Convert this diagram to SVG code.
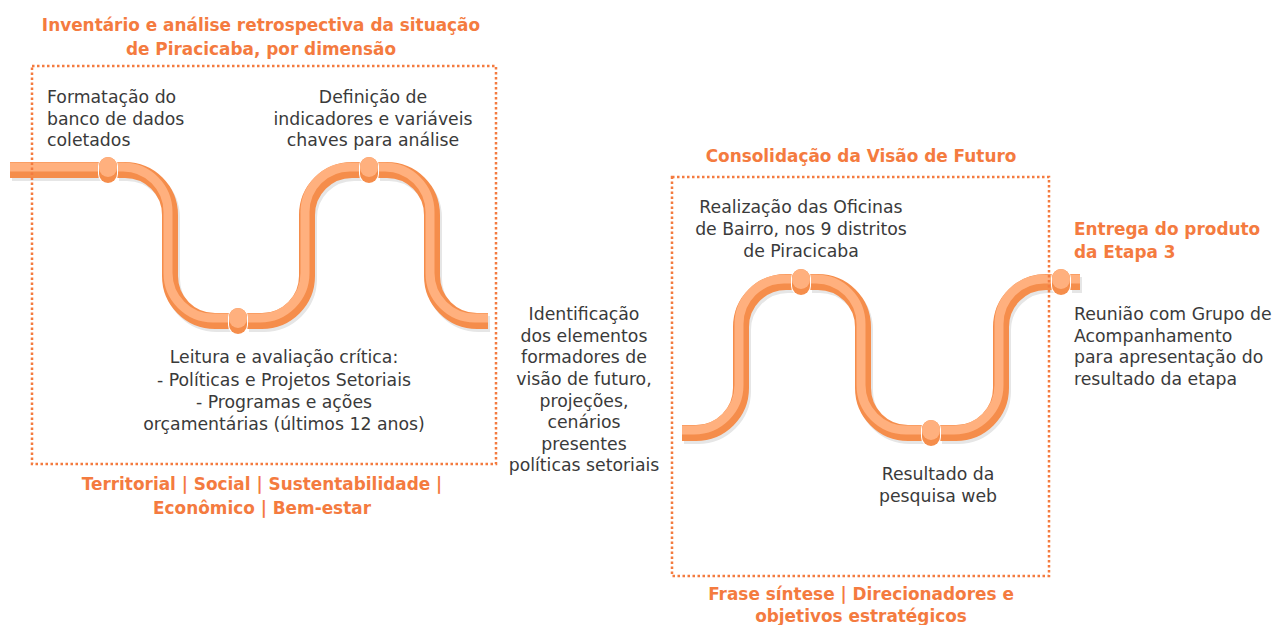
<svg xmlns="http://www.w3.org/2000/svg" width="1282" height="625" viewBox="0 0 1282 625">
<defs>
<style>
.box{fill:none;stroke:#F47B3F;stroke-width:2.5;stroke-dasharray:2.5 2.5}
.t{font-family:"DejaVu Sans","Liberation Sans",sans-serif;font-size:17.3px;fill:#3a3a3a}
.h{font-family:"DejaVu Sans","Liberation Sans",sans-serif;font-size:16.9px;font-weight:bold;fill:#F47B3F}
.m{text-anchor:middle}
.shadow{fill:none;stroke:#e6e6e6;stroke-width:16}
.dark{fill:none;stroke:#F58D4B;stroke-width:16}
.light{fill:none;stroke:#FFB07E;stroke-width:9}
</style>
<g id="bead">
<rect x="-10" y="-14" width="20" height="28" rx="10" fill="#fff"/>
<rect x="-9" y="-13" width="18" height="26" rx="9" fill="#F58D4B"/>
<rect x="-9" y="-13" width="18" height="20" rx="9" fill="#FFB07E"/>
</g>
</defs>
<rect width="1282" height="625" fill="#fff"/>
<g id="connectors">
<g id="track-left">
<path class="shadow" transform="translate(2,3)" d="M10,170 H99 M117,170 H125 A45,45 0 0 1 170,215 V276 A45,45 0 0 0 215,321 H229 M247,321 H262 A45,45 0 0 0 307,276 V215 A45,45 0 0 1 352,170 H360 M378,170 H387 A45,45 0 0 1 432,215 V276 A45,45 0 0 0 477,321 H488"/>
<path class="dark" d="M10,170 H99 M117,170 H125 A45,45 0 0 1 170,215 V276 A45,45 0 0 0 215,321 H229 M247,321 H262 A45,45 0 0 0 307,276 V215 A45,45 0 0 1 352,170 H360 M378,170 H387 A45,45 0 0 1 432,215 V276 A45,45 0 0 0 477,321 H488"/>
<path class="light" transform="translate(-2,-3)" d="M12,170 H101 M119,170 H125 A45,45 0 0 1 170,215 V276 A45,45 0 0 0 215,321 H231 M249,321 H262 A45,45 0 0 0 307,276 V215 A45,45 0 0 1 352,170 H362 M380,170 H387 A45,45 0 0 1 432,215 V276 A45,45 0 0 0 477,321 H490"/>
</g>
<g id="track-right">
<path class="shadow" transform="translate(2,3)" d="M682,433 H696 A45,45 0 0 0 741,388 V327 A45,45 0 0 1 786,282 H792 M810,282 H818 A45,45 0 0 1 863,327 V388 A45,45 0 0 0 908,433 H922 M940,433 H956 A45,45 0 0 0 1001,388 V327 A45,45 0 0 1 1046,282 H1052 M1070,282 H1080"/>
<path class="dark" d="M682,433 H696 A45,45 0 0 0 741,388 V327 A45,45 0 0 1 786,282 H792 M810,282 H818 A45,45 0 0 1 863,327 V388 A45,45 0 0 0 908,433 H922 M940,433 H956 A45,45 0 0 0 1001,388 V327 A45,45 0 0 1 1046,282 H1052 M1070,282 H1080"/>
<path class="light" transform="translate(-2,-3)" d="M684,433 H696 A45,45 0 0 0 741,388 V327 A45,45 0 0 1 786,282 H794 M812,282 H818 A45,45 0 0 1 863,327 V388 A45,45 0 0 0 908,433 H924 M942,433 H956 A45,45 0 0 0 1001,388 V327 A45,45 0 0 1 1046,282 H1054 M1072,282 H1082"/>
</g>
</g>
<g id="box-left"><rect class="box" x="32" y="66" width="464" height="398"/></g>
<g id="box-right"><rect class="box" x="672" y="177" width="377" height="399"/></g>
<g id="node-1"><use href="#bead" x="108" y="170"/>
<text class="t" x="47" y="103">Formatação do</text><text class="t" x="47" y="125">banco de dados</text><text class="t" x="47" y="146">coletados</text></g>
<g id="node-2"><use href="#bead" x="238" y="321"/>
<text class="t m" x="284" y="363">Leitura e avaliação crítica:</text><text class="t m" x="284" y="386">- Políticas e Projetos Setoriais</text><text class="t m" x="284" y="408">- Programas e ações</text><text class="t m" x="284" y="430">orçamentárias (últimos 12 anos)</text></g>
<g id="node-3"><use href="#bead" x="369" y="170"/>
<text class="t m" x="373" y="103">Definição de</text><text class="t m" x="373" y="125">indicadores e variáveis</text><text class="t m" x="373" y="146">chaves para análise</text></g>
<g id="node-4"><use href="#bead" x="801" y="282"/>
<text class="t m" x="801" y="213">Realização das Oficinas</text><text class="t m" x="801" y="235">de Bairro, nos 9 distritos</text><text class="t m" x="801" y="257">de Piracicaba</text></g>
<g id="node-5"><use href="#bead" x="931" y="433"/>
<text class="t m" x="938" y="480">Resultado da</text><text class="t m" x="938" y="502">pesquisa web</text></g>
<g id="node-6"><use href="#bead" x="1061" y="282"/>
<text class="h" x="1074" y="235">Entrega do produto</text><text class="h" x="1074" y="258">da Etapa 3</text>
<text class="t" x="1074" y="320">Reunião com Grupo de</text><text class="t" x="1074" y="342">Acompanhamento</text><text class="t" x="1074" y="363">para apresentação do</text><text class="t" x="1074" y="385">resultado da etapa</text></g>
<g id="middle">
<text class="t m" x="584" y="320">Identificação</text><text class="t m" x="584" y="342">dos elementos</text><text class="t m" x="584" y="363">formadores de</text><text class="t m" x="584" y="385">visão de futuro,</text><text class="t m" x="584" y="407">projeções,</text><text class="t m" x="584" y="428">cenários</text><text class="t m" x="584" y="450">presentes</text><text class="t m" x="584" y="471">políticas setoriais</text></g>
<g id="titles">
<text class="h m" x="261" y="31">Inventário e análise retrospectiva da situação</text>
<text class="h m" x="261" y="55">de Piracicaba, por dimensão</text>
<text class="h m" x="262" y="490">Territorial | Social | Sustentabilidade |</text>
<text class="h m" x="262" y="514">Econômico | Bem-estar</text>
<text class="h m" x="861" y="162">Consolidação da Visão de Futuro</text>
<text class="h m" x="861" y="600">Frase síntese | Direcionadores e</text>
<text class="h m" x="861" y="622">objetivos estratégicos</text>
</g>
</svg>
